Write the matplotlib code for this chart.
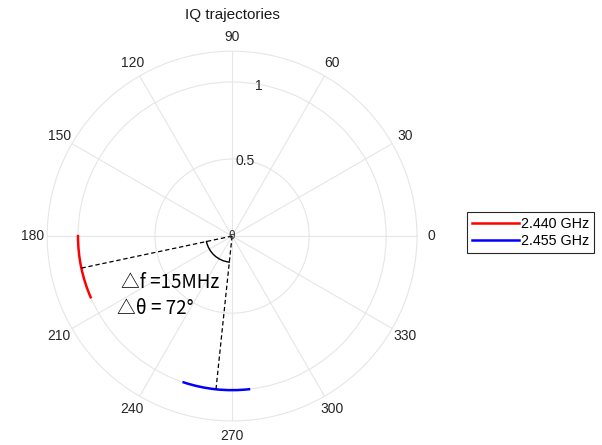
import numpy as np
import matplotlib.pyplot as plt

plt.rcParams['font.family'] = ['Liberation Sans', 'DejaVu Sans']

# arc end points (degrees) and radius of each trajectory
red_theta = [180.0, 203.4]
blue_theta = [251.7, 276.3]
traj_r = [1.0, 1.0]
series_labels = ['2.440 GHz', '2.455 GHz']

# phase markers and the angle between them
marker_theta = [192.0, 264.0]
marker_r = 1.0
arc_r = 0.17
delta_f_text = '\u25b3f =15MHz'
delta_theta_text = '\u25b3\u03b8 = 72\u00b0'

r_ticks = [0.5, 1.0]
r_tick_labels = ['0.5', '1']
theta_ticks = np.arange(0, 360, 30)

fig = plt.figure(figsize=(6.02, 4.45), dpi=100)
ax = fig.add_axes([0.078, 0.054, 0.615, 0.831], projection='polar')


def arc_line(line):
    # let the polar transform bend straight (theta, r) segments into arcs
    line.get_path()._interpolation_steps = 100
    line.stale = True


grid_c = '#e6e6e6'
l1, = ax.plot(np.deg2rad(red_theta), traj_r, color='red', lw=1.8, label=series_labels[0])
l2, = ax.plot(np.deg2rad(blue_theta), traj_r, color='blue', lw=1.8, label=series_labels[1])
arc_line(l1)
arc_line(l2)

for t in marker_theta:
    ax.plot([0, np.deg2rad(t)], [0, marker_r], color='black', ls=(0, (3.5, 2.2)), lw=0.9)
la, = ax.plot(np.deg2rad(marker_theta), [arc_r, arc_r], color='black', lw=1.0)
arc_line(la)

ax.text(0, 0.0, '\u03b8', fontsize=8.5, ha='center', va='center', color='#333333')
ax.text(np.deg2rad(202.5), 0.78, delta_f_text, fontsize=13.5, ha='left', va='center',
        family=['Noto Sans CJK SC', 'DejaVu Sans'])
ax.text(np.deg2rad(212.2), 0.88, delta_theta_text, fontsize=13.5, ha='left', va='center',
        family=['Noto Sans CJK SC', 'DejaVu Sans'])

ax.set_rlim(0, 1.2)
ax.set_rticks(r_ticks)
ax.set_yticklabels([])
for r, lab in zip(r_ticks, r_tick_labels):
    ax.text(np.deg2rad(80), r * 0.99, lab, fontsize=10, ha='center', va='center',
            color='#262626')
ax.set_thetagrids(theta_ticks, [str(t) for t in theta_ticks])
ax.tick_params(axis='x', pad=0, labelsize=10, colors='#262626')
ax.grid(True, color=grid_c, lw=0.8)
ax.spines['polar'].set_color(grid_c)
ax.set_title('IQ trajectories', fontsize=11, y=1.086, pad=0, color='#1a1a1a')

leg = fig.legend(loc='upper left', bbox_to_anchor=(0.776, 0.524), fontsize=10.3,
                 fancybox=False, edgecolor='#262626', framealpha=1,
                 handlelength=3.3, handletextpad=0.1, borderpad=0.35,
                 labelspacing=0.22, borderaxespad=0)
leg.get_frame().set_linewidth(0.8)

fig.savefig('out.png', dpi=100)
